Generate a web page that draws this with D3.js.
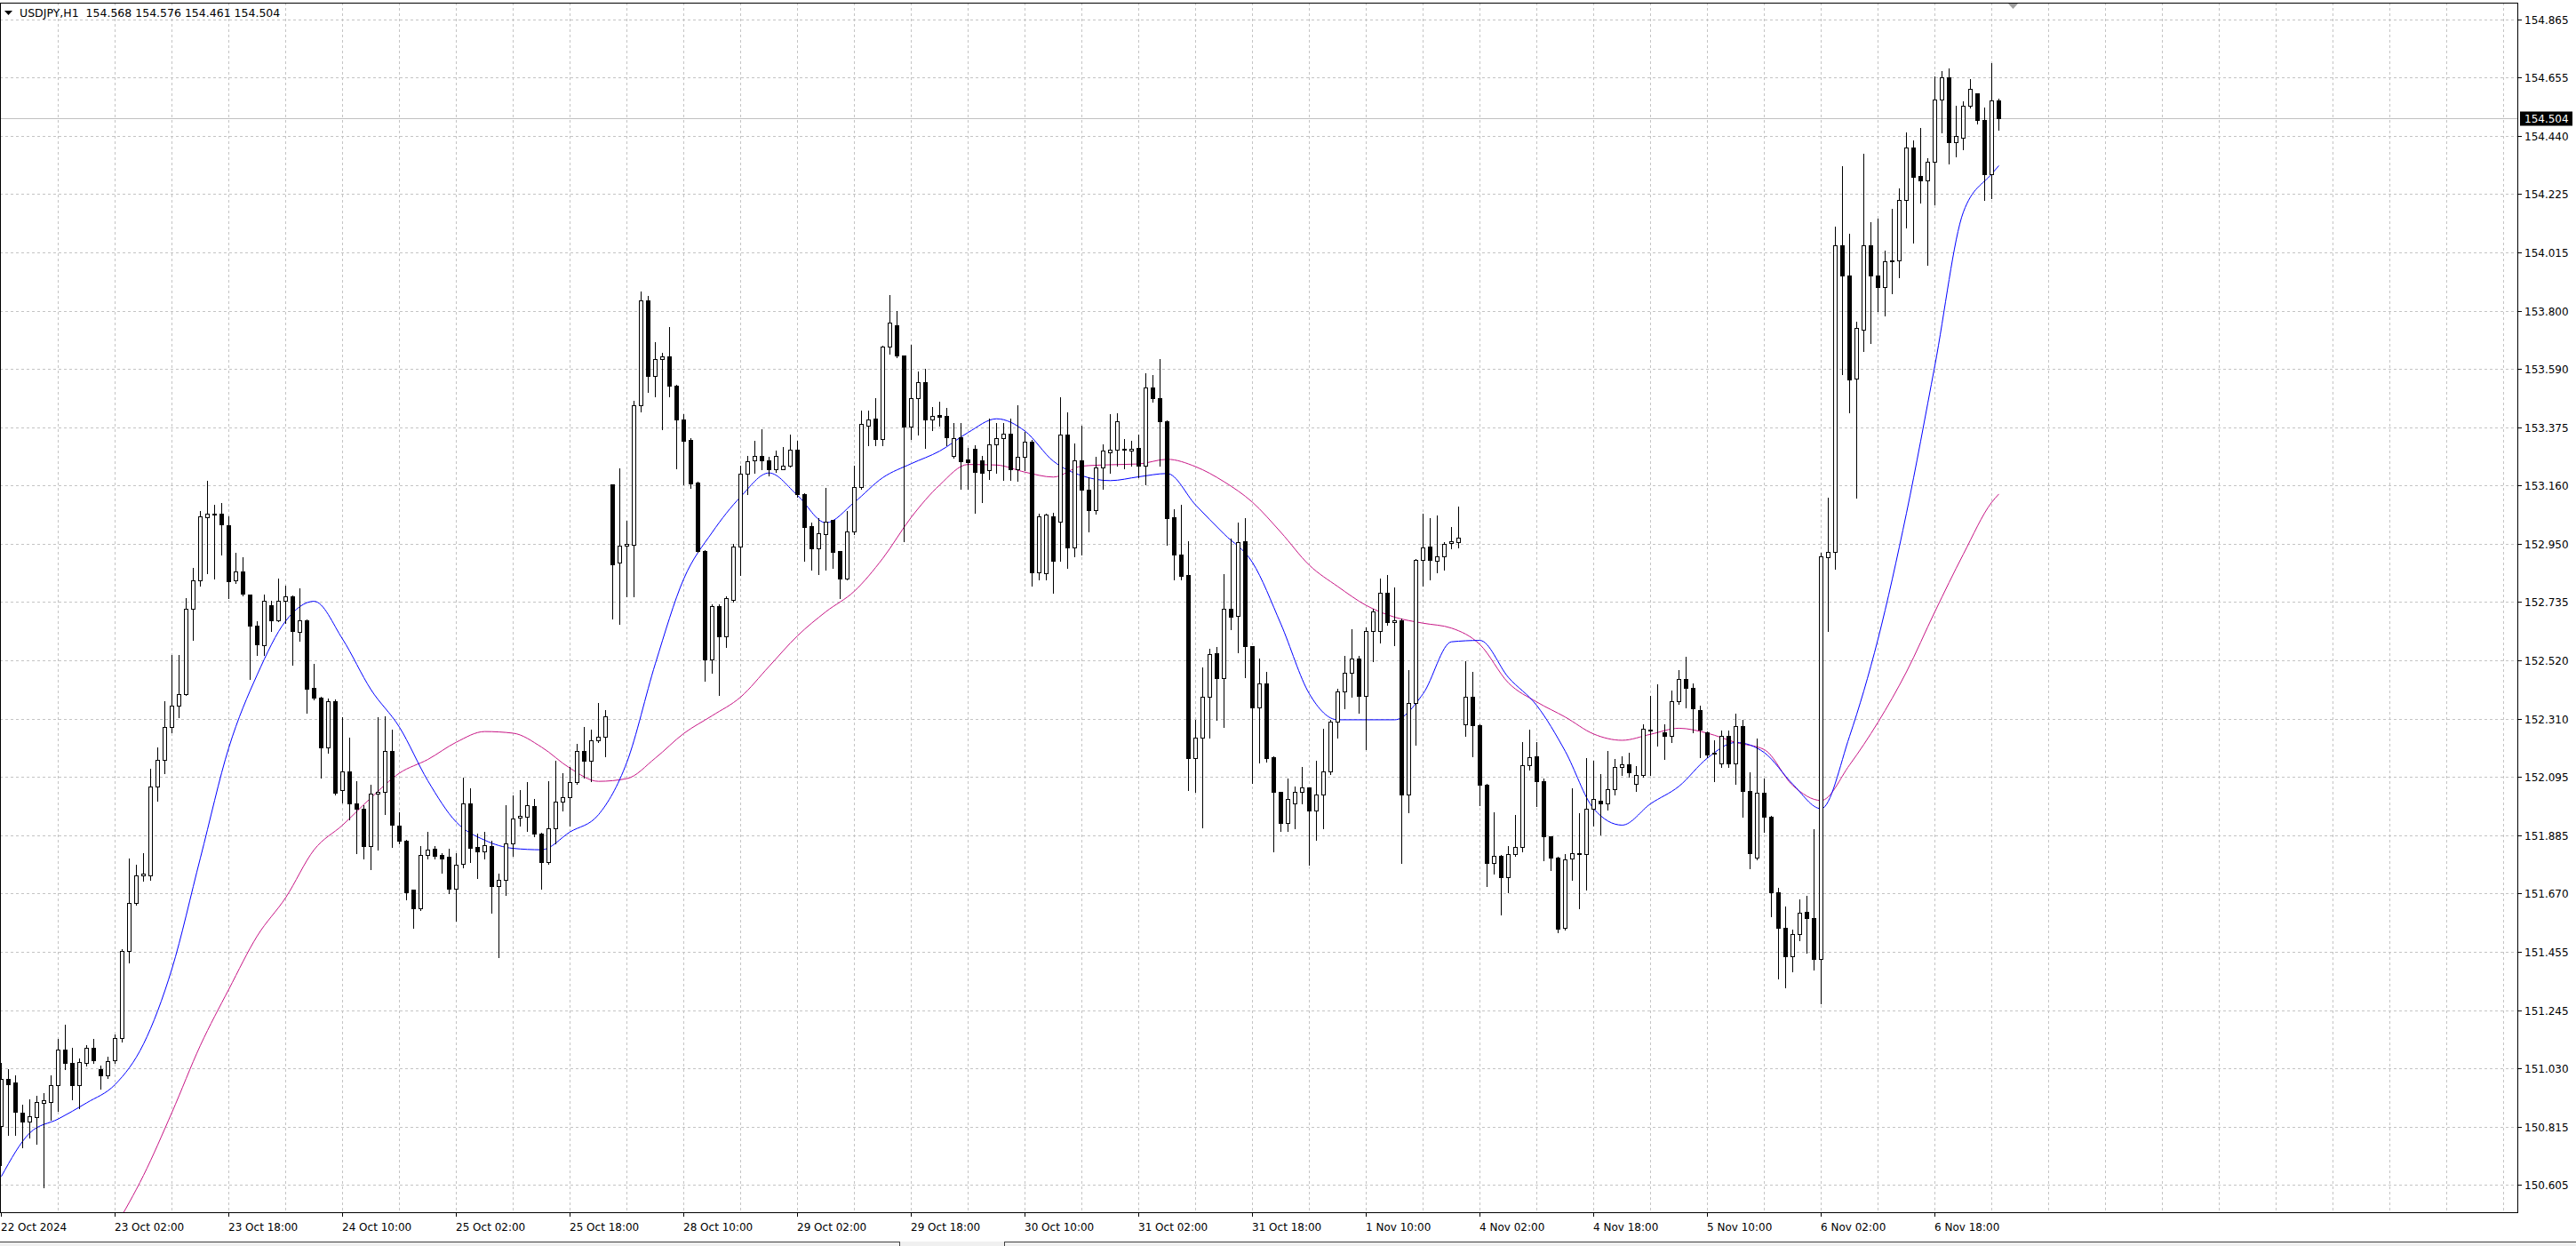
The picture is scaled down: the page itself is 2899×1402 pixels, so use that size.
<!DOCTYPE html>
<html><head><meta charset="utf-8">
<script src="https://cdn.jsdelivr.net/npm/d3@7"></script>
<style>html,body{margin:0;padding:0;background:#fff;overflow:hidden}svg{display:block}</style>
</head><body>
<script>
const symbolTitle = "USDJPY,H1";
const lastBar = [154.568, 154.576, 154.461, 154.504];

const openArr = [150.821,150.992,150.979,150.869,150.836,150.854,150.904,150.908,150.970,151.099,
151.051,150.970,151.051,151.106,151.027,151.007,151.062,151.143,151.461,151.637,
151.736,151.736,152.060,152.159,152.280,152.356,152.400,152.712,152.813,153.045,
153.054,153.058,153.015,152.813,152.846,152.762,152.648,152.576,152.725,152.668,
152.740,152.756,152.626,152.670,152.422,152.387,152.203,152.372,152.049,152.115,
151.999,151.979,151.845,152.034,152.043,152.192,151.918,151.863,151.683,151.615,
151.812,151.834,151.812,151.803,151.687,151.779,151.999,151.839,151.825,151.845,
151.698,151.720,151.852,151.946,151.950,151.988,151.889,151.786,151.907,152.005,
152.021,152.076,152.192,152.155,152.231,152.242,153.164,152.879,152.942,152.944,
153.453,153.837,153.563,153.622,153.633,153.527,153.401,153.327,153.173,152.923,
152.525,152.722,152.611,152.744,152.939,153.203,153.252,153.269,153.254,153.219,
153.222,153.232,153.292,153.130,153.014,152.931,152.984,153.034,152.921,152.822,
152.992,153.155,153.381,153.406,153.332,153.668,153.746,153.635,153.378,153.481,
153.539,153.401,153.418,153.415,153.269,153.338,153.257,153.295,153.252,153.216,
153.310,153.335,153.352,153.222,153.266,153.322,152.843,152.842,153.050,153.029,
153.348,152.934,153.254,153.146,153.072,153.226,153.282,153.292,153.292,153.290,
153.299,153.232,153.519,153.481,153.395,153.045,152.908,152.835,152.164,152.239,
152.388,152.548,152.457,152.711,152.686,152.959,152.573,152.351,152.437,152.169,
152.040,151.927,151.999,152.040,152.057,151.974,152.032,152.115,152.297,152.409,
152.476,152.529,152.391,152.631,152.628,152.769,152.661,152.669,152.032,152.366,
152.888,152.938,152.885,152.901,152.951,152.954,152.289,152.388,152.284,152.068,
151.783,151.808,151.729,151.813,151.841,152.139,152.173,152.081,151.878,151.800,
151.546,151.797,151.817,151.813,151.980,152.010,151.998,152.052,152.133,152.142,
152.072,152.103,152.265,152.268,152.260,152.246,152.374,152.455,152.420,152.339,
152.260,152.181,152.144,152.246,152.144,152.281,152.045,151.801,152.038,151.952,
151.674,151.546,151.442,151.523,151.604,151.581,151.430,152.898,152.919,154.038,
153.927,153.551,153.732,154.038,153.927,153.887,153.980,153.985,154.205,154.397,
154.291,154.277,154.344,154.571,154.652,154.416,154.432,154.548,154.594,154.497,
154.298,154.568];

const highArr = [151.051,151.029,151.007,150.897,150.919,150.930,150.941,151.007,151.139,151.189,
151.106,151.066,151.115,151.139,151.040,151.073,151.154,151.468,151.797,151.775,
151.819,152.126,152.203,152.374,152.543,152.543,152.751,152.861,153.069,153.179,
153.091,153.096,153.047,152.916,152.898,152.764,152.664,152.762,152.740,152.822,
152.795,152.758,152.784,152.672,152.510,152.389,152.383,152.378,152.313,152.240,
152.082,151.994,152.067,152.313,152.317,152.269,151.966,151.865,151.685,151.845,
151.896,151.845,151.819,151.834,151.819,152.093,152.054,151.889,151.896,151.863,
151.742,151.994,152.027,152.049,152.076,152.016,151.891,152.082,152.155,152.111,
152.133,152.218,152.280,152.269,152.367,152.339,153.166,153.223,153.032,153.471,
153.870,153.853,153.684,153.646,153.739,153.528,153.423,153.335,153.175,152.925,
152.727,152.727,152.755,152.948,153.232,153.269,153.323,153.368,153.266,153.290,
153.302,153.348,153.325,153.133,153.025,153.042,153.153,153.037,152.923,153.067,
153.232,153.434,153.434,153.481,153.671,153.857,153.800,153.636,153.676,153.577,
153.588,153.448,153.468,153.444,153.390,153.390,153.299,153.307,153.269,153.406,
153.390,153.390,153.406,153.456,153.357,153.327,153.058,153.058,153.062,153.484,
153.428,153.315,153.381,153.191,153.266,153.312,153.423,153.424,153.332,153.323,
153.348,153.572,153.564,153.622,153.398,153.075,153.092,152.959,152.305,152.495,
152.565,152.570,152.838,152.967,153.025,153.042,152.575,152.529,152.479,152.171,
152.042,152.090,152.060,152.131,152.059,152.156,152.272,152.305,152.418,152.537,
152.636,152.537,152.641,152.711,152.822,152.835,152.789,152.675,152.487,152.893,
153.058,153.042,153.053,152.954,153.009,153.083,152.520,152.479,152.290,152.070,
151.966,151.810,151.845,151.957,152.222,152.269,152.222,152.090,151.880,151.805,
151.813,152.056,151.963,152.165,152.154,152.107,152.191,152.161,152.172,152.184,
152.137,152.288,152.392,152.434,152.288,152.411,152.485,152.536,152.439,152.358,
152.262,152.230,152.265,152.265,152.327,152.304,152.114,152.235,152.091,151.954,
151.690,151.623,151.539,151.650,151.662,151.906,152.914,153.116,154.108,154.328,
154.080,153.760,154.374,154.124,154.135,154.020,154.172,154.247,154.451,154.421,
154.467,154.358,154.657,154.676,154.687,154.548,154.564,154.648,154.596,154.543,
154.706,154.576];

const lowArr = [150.678,150.788,150.788,150.744,150.777,150.755,150.597,150.843,150.875,151.029,
150.919,150.886,151.040,151.051,150.957,150.996,151.051,151.128,151.417,151.628,
151.716,151.720,152.010,152.111,152.258,152.313,152.396,152.598,152.795,152.839,
152.822,152.909,152.751,152.806,152.758,152.455,152.543,152.543,152.631,152.664,
152.659,152.506,152.593,152.330,152.378,152.093,152.185,152.032,152.001,151.940,
151.819,151.797,151.760,151.830,151.961,151.841,151.852,151.650,151.545,151.610,
151.797,151.797,151.746,151.672,151.571,151.764,151.786,151.725,151.797,151.599,
151.439,151.665,151.808,151.918,151.900,151.878,151.687,151.779,151.852,151.972,
151.918,152.071,152.093,152.082,152.225,152.170,152.675,152.657,152.756,152.756,
153.431,153.502,153.486,153.366,153.486,153.224,153.166,153.153,152.918,152.446,
152.476,152.396,152.570,152.736,152.835,153.130,153.208,153.219,153.199,153.212,
153.219,153.229,153.120,152.885,152.852,152.838,152.855,152.860,152.749,152.818,
152.984,153.150,153.307,153.307,153.307,153.643,153.630,152.959,153.332,153.348,
153.299,153.365,153.381,153.307,153.262,153.150,153.150,153.063,153.100,153.186,
153.208,153.183,153.183,153.179,153.216,152.794,152.818,152.818,152.769,152.885,
152.860,152.901,152.909,152.992,153.058,153.150,153.208,153.232,153.224,153.232,
153.191,153.166,153.468,153.232,152.943,152.818,152.818,152.048,152.040,151.911,
152.239,152.305,152.280,152.636,152.553,152.462,152.073,152.148,152.153,151.825,
151.899,151.899,151.908,151.999,151.775,151.866,151.908,152.106,152.239,152.347,
152.388,152.330,152.197,152.520,152.587,152.653,152.578,151.783,151.966,152.214,
152.794,152.818,152.843,152.855,152.931,152.934,152.247,152.173,151.994,151.696,
151.742,151.593,151.676,151.808,151.825,152.123,151.990,151.792,151.755,151.527,
151.539,151.720,151.616,151.685,151.917,151.887,151.975,152.033,152.103,152.096,
152.045,152.096,152.103,152.212,152.161,152.225,152.364,152.351,152.260,152.167,
152.167,152.079,152.133,152.133,152.072,151.952,151.762,151.794,151.894,151.586,
151.361,151.326,151.384,151.500,151.454,151.391,151.268,152.629,152.856,153.568,
153.428,153.118,153.651,153.683,153.799,153.783,153.864,153.922,154.103,154.050,
154.196,153.969,154.189,154.451,154.339,154.363,154.390,154.543,154.485,154.205,
154.212,154.461];

const closeArr = [150.992,150.974,150.871,150.836,150.856,150.908,150.913,150.970,151.099,151.051,
150.970,151.055,151.106,151.062,151.007,151.058,151.143,151.461,151.637,151.736,
151.742,152.060,152.159,152.280,152.356,152.400,152.712,152.813,153.047,153.058,
153.058,153.019,152.811,152.846,152.767,152.648,152.580,152.740,152.668,152.740,
152.756,152.631,152.668,152.418,152.387,152.203,152.372,152.038,152.115,151.999,
151.979,151.845,152.034,152.043,152.192,151.922,151.863,151.676,151.615,151.812,
151.830,151.808,151.797,151.687,151.775,151.999,151.836,151.825,151.847,151.698,
151.720,151.852,151.944,151.955,151.994,151.889,151.786,151.907,152.005,152.021,
152.076,152.192,152.155,152.231,152.242,152.319,152.872,152.942,152.949,153.453,
153.837,153.563,153.622,153.633,153.526,153.401,153.323,153.169,152.921,152.524,
152.719,152.611,152.749,152.939,153.203,153.249,153.269,153.252,153.219,153.269,
153.232,153.292,153.130,153.009,152.931,152.987,153.030,152.918,152.822,152.992,
153.155,153.385,153.401,153.332,153.668,153.757,153.635,153.378,153.481,153.539,
153.401,153.415,153.411,153.338,153.335,153.249,153.246,153.212,153.208,153.310,
153.335,153.352,153.222,153.266,153.322,152.843,153.050,153.054,152.885,153.348,
152.934,153.254,153.146,153.072,153.226,153.290,153.292,153.395,153.295,153.294,
153.232,153.519,153.481,153.395,153.042,152.908,152.832,152.164,152.239,152.388,
152.545,152.457,152.711,152.683,152.954,152.573,152.351,152.437,152.164,152.040,
151.927,152.015,152.040,152.057,151.974,152.032,152.115,152.297,152.409,152.476,
152.529,152.391,152.631,152.702,152.769,152.661,152.669,152.032,152.366,152.888,
152.934,152.888,152.901,152.948,152.959,152.971,152.388,152.284,152.068,151.783,
151.808,151.729,151.813,151.841,152.139,152.169,152.081,151.878,151.800,151.543,
151.796,151.817,151.813,151.980,152.015,151.998,152.052,152.133,152.142,152.114,
152.103,152.272,152.270,152.270,152.246,152.374,152.455,152.420,152.346,152.269,
152.179,152.184,152.246,152.144,152.281,152.045,151.817,152.038,151.952,151.674,
151.546,151.442,151.523,151.600,151.581,151.430,152.902,152.919,154.038,153.927,
153.547,153.737,154.038,153.927,153.887,153.980,153.985,154.205,154.397,154.288,
154.277,154.344,154.571,154.652,154.416,154.437,154.548,154.611,154.497,154.298,
154.567,154.504];

// moving averages read every 4 bars
const maIndex = d3.range(0, 281, 4).concat([281]);
const maFast = [150.636,150.795,150.846,150.905,150.972,151.12,151.395,151.80,152.203,152.47,
152.666,152.738,152.60,152.415,152.278,152.082,151.931,151.865,151.835,151.83,
151.895,151.958,152.15,152.51,152.82,152.99,153.12,153.207,153.125,153.025,
153.10,153.19,153.241,153.287,153.355,153.405,153.36,153.25,153.197,153.179,
153.193,153.205,153.09,152.984,152.88,152.655,152.40,152.305,152.305,152.305,
152.40,152.59,152.595,152.46,152.357,152.19,151.98,151.92,151.998,152.062,
152.165,152.222,152.185,152.07,151.98,152.245,152.60,153.06,153.60,154.16,
154.30,154.33];
const maSlow = [null,null,null,null,150.45,150.64,150.87,151.115,151.32,151.515,
151.655,151.83,151.92,152.02,152.11,152.16,152.223,152.262,152.256,152.205,
152.128,152.08,152.09,152.165,152.255,152.32,152.388,152.50,152.612,152.70,
152.775,152.895,153.045,153.163,153.238,153.236,153.21,153.192,153.232,153.237,
153.24,153.257,153.23,153.175,153.10,152.99,152.87,152.792,152.723,152.68,
152.658,152.64,152.58,152.44,152.37,152.315,152.253,152.23,152.252,152.274,
152.256,152.222,152.196,152.065,152.01,152.14,152.296,152.48,152.70,152.91,
153.10,153.13];

const priceTickLabels = ["154.865","154.655","154.440","154.225","154.015","153.800","153.590",
"153.375","153.160","152.950","152.735","152.520","152.310","152.095","151.885","151.670",
"151.455","151.245","151.030","150.815","150.605"];
const timeLabels = ["22 Oct 2024","23 Oct 02:00","23 Oct 18:00","24 Oct 10:00","25 Oct 02:00",
"25 Oct 18:00","28 Oct 10:00","29 Oct 02:00","29 Oct 18:00","30 Oct 10:00","31 Oct 02:00",
"31 Oct 18:00","1 Nov 10:00","4 Nov 02:00","4 Nov 18:00","5 Nov 10:00","6 Nov 02:00","6 Nov 18:00"];
const timeLabelIndex = [0,16,32,48,64,80,96,112,128,144,160,176,192,208,224,240,256,272];

// ---------- drawing ----------
const W = 2899, H = 1402;
const plot = {left: 0, right: 2833, top: 3, bottom: 1364};
const n = openArr.length;
const font = '"DejaVu Sans", "Liberation Sans", sans-serif';

const svg = d3.select("body").append("svg").attr("width", W).attr("height", H)
  .style("font-family", font);
svg.append("rect").attr("width", W).attr("height", H).attr("fill", "#ffffff");

const x = d3.scaleLinear().domain([0, n - 1]).range([1, 1 + 8 * (n - 1)]);
const y = d3.scaleLinear().domain([150.605, 154.865]).range([1333.3, 21.7]);
const tickStep = (154.865 - 150.605) / (priceTickLabels.length - 1);
const tickVals = priceTickLabels.map((_, k) => 154.865 - k * tickStep);
const px = v => Math.round(v) + 0.5;

svg.append("defs").append("clipPath").attr("id", "clip")
  .append("rect").attr("x", plot.left).attr("y", plot.top).attr("width", plot.right - plot.left).attr("height", plot.bottom - plot.top);

const grid = svg.append("g").attr("stroke", "#c4c4c4").attr("stroke-dasharray", "3,3").attr("shape-rendering", "crispEdges");
tickVals.forEach(t => {
  grid.append("line").attr("x1", plot.left).attr("x2", plot.right).attr("y1", px(y(t))).attr("y2", px(y(t)));
});
const gridBars = d3.range(8, n + 80, 8).filter(i => x(i) < plot.right - 4);
gridBars.forEach(i => {
  grid.append("line").attr("x1", px(x(i))).attr("x2", px(x(i))).attr("y1", plot.top).attr("y2", plot.bottom);
});

// current price line
const lastClose = lastBar[3];
svg.append("line").attr("x1", plot.left).attr("x2", plot.right)
  .attr("y1", px(y(lastClose))).attr("y2", px(y(lastClose)))
  .attr("stroke", "#c0c0c0").attr("shape-rendering", "crispEdges");

const g = svg.append("g").attr("clip-path", "url(#clip)");

// moving averages
const fastPts = maIndex.map((i, k) => [i, maFast[k]]);
const slowPts = maIndex.map((i, k) => [i, maSlow[k]]);
const maLine = d3.line().defined(d => d[1] != null).x(d => x(d[0]) + 0.5).y(d => y(d[1])).curve(d3.curveMonotoneX);
g.append("path").attr("d", maLine(slowPts)).attr("fill", "none").attr("stroke", "#c71585").attr("stroke-width", 1);
g.append("path").attr("d", maLine(fastPts)).attr("fill", "none").attr("stroke", "#0000ff").attr("stroke-width", 1);

// candles
const candles = g.append("g").attr("shape-rendering", "crispEdges");
d3.range(n).forEach(i => {
  const o = openArr[i], h = highArr[i], l = lowArr[i], c = closeArr[i];
  const cx = Math.round(x(i));
  const yh = Math.round(y(h)), yl = Math.round(y(l));
  const yTop = Math.round(y(Math.max(o, c))), yBot = Math.round(y(Math.min(o, c)));
  candles.append("line").attr("x1", cx + 0.5).attr("x2", cx + 0.5).attr("y1", yh).attr("y2", yl + 1)
    .attr("stroke", "#000");
  candles.append("rect").attr("x", cx - 1.5).attr("y", yTop + 0.5).attr("width", 4)
    .attr("height", Math.max(yBot - yTop, 0))
    .attr("fill", c >= o ? "#ffffff" : "#000000").attr("stroke", "#000");
});

// frame
svg.append("rect").attr("x", plot.left + 0.5).attr("y", plot.top + 0.5)
  .attr("width", plot.right - plot.left).attr("height", plot.bottom - plot.top)
  .attr("fill", "none").attr("stroke", "#000").attr("shape-rendering", "crispEdges");

// price axis
const yAxis = svg.append("g");
tickVals.forEach((t, k) => {
  const yy = px(y(t));
  yAxis.append("line").attr("x1", plot.right).attr("x2", plot.right + 5).attr("y1", yy).attr("y2", yy)
    .attr("stroke", "#000").attr("shape-rendering", "crispEdges");
  yAxis.append("text").attr("x", 2841).attr("y", yy).attr("dy", "0.36em")
    .attr("font-size", 12).attr("fill", "#000").text(priceTickLabels[k]);
});
// current price tag
const yc = px(y(lastClose));
yAxis.append("rect").attr("x", 2836).attr("y", yc - 8).attr("width", 59).attr("height", 16).attr("fill", "#000");
yAxis.append("text").attr("x", 2841).attr("y", yc).attr("dy", "0.36em").attr("font-size", 12)
  .attr("fill", "#fff").text(lastClose.toFixed(3));

// time axis
const xAxis = svg.append("g");
timeLabelIndex.forEach((i, k) => {
  const xx = px(x(i));
  xAxis.append("line").attr("x1", xx).attr("x2", xx).attr("y1", plot.bottom).attr("y2", plot.bottom + 5)
    .attr("stroke", "#000").attr("shape-rendering", "crispEdges");
  xAxis.append("text").attr("x", Math.round(x(i))).attr("y", plot.bottom + 21)
    .attr("font-size", 12).attr("fill", "#000").text(timeLabels[k]);
});

// header
svg.append("path").attr("d", "M5,12 L14,12 L9.5,17 Z").attr("fill", "#000");
svg.append("text").attr("x", 22).attr("y", 19).attr("font-size", 12.5).attr("fill", "#000")
  .style("white-space", "pre").attr("xml:space", "preserve")
  .text(symbolTitle + "  " + lastBar.map(v => v.toFixed(3)).join(" "));

// chart shift marker
svg.append("path").attr("d", "M2260,4 L2271,4 L2265.5,10 Z").attr("fill", "#a0a0a0");

// bottom tab strip
svg.append("rect").attr("x", 0).attr("y", 1397).attr("width", W).attr("height", 5).attr("fill", "#f0f0f0");
svg.append("line").attr("x1", 0).attr("x2", 1012).attr("y1", 1397.5).attr("y2", 1397.5).attr("stroke", "#404040");
svg.append("line").attr("x1", 1131).attr("x2", W).attr("y1", 1397.5).attr("y2", 1397.5).attr("stroke", "#404040");
svg.append("line").attr("x1", 1012.5).attr("x2", 1012.5).attr("y1", 1397).attr("y2", 1402).attr("stroke", "#404040");
svg.append("line").attr("x1", 1130.5).attr("x2", 1130.5).attr("y1", 1397).attr("y2", 1402).attr("stroke", "#404040");
</script>
</body></html>
